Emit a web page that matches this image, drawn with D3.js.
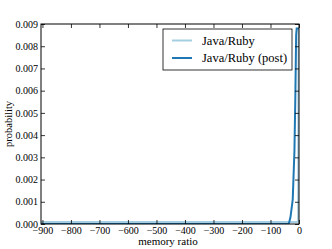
<!DOCTYPE html>
<html>
<head>
<meta charset="utf-8">
<script src="https://cdn.jsdelivr.net/npm/d3@7"></script>
<style>
  body { margin: 0; background: #fff; }
  svg text { font-family: 'Liberation Serif', 'Times New Roman', Tinos, 'DejaVu Serif', serif !important; }
</style>
</head>
<body>
<svg id="chart"></svg>
<script>
// memory ratio -> probability
var javaRuby = [
  [-905, 0.00009], [-600, 0.00009], [-300, 0.00009], [-100, 0.00009],
  [-10, 0.00009], [-3, 0.0001], [-1.5, 0.0087], [0, 0.0088]
];
var javaRubyPost = [
  [-905, 0], [-300, 0], [-100, 0], [-36, 0], [-30, 0.0003],
  [-22, 0.0011], [-16, 0.0033], [-13, 0.0056], [-10, 0.0085],
  [-8, 0.0088], [0, 0.0088]
];
var seriesNames = ['Java/Ruby', 'Java/Ruby (post)'];
var seriesColors = ['#a6cee3', '#1f78b4'];
var xTicks = [-900, -800, -700, -600, -500, -400, -300, -200, -100, 0];
var yTicks = [0, 0.001, 0.002, 0.003, 0.004, 0.005, 0.006, 0.007, 0.008, 0.009];

var width = 332, height = 249;
var margin = {top: 24, right: 33, bottom: 25, left: 41};

var svg = d3.select('#chart')
  .attr('width', width)
  .attr('height', height);

var xScale = d3.scaleLinear()
  .domain([-905, 0])
  .range([margin.left, width - margin.right]);

var yScale = d3.scaleLinear()
  .domain([0, 0.009])
  .range([height - margin.bottom, margin.top]);

var fmtX = function(d){ return d < 0 ? '\u2212' + Math.abs(d) : d; };

// clip the lines to the plot box
svg.append('clipPath').attr('id', 'clip')
  .append('rect')
  .attr('x', margin.left).attr('y', margin.top)
  .attr('width', xScale.range()[1] - margin.left)
  .attr('height', yScale.range()[0] - margin.top);

var line = d3.line()
  .x(function(d){ return xScale(d[0]); })
  .y(function(d){ return yScale(d[1]); });

var plot = svg.append('g').attr('clip-path', 'url(#clip)');
[javaRuby, javaRubyPost].forEach(function(s, i){
  plot.append('path')
    .datum(s)
    .attr('fill', 'none')
    .attr('stroke', seriesColors[i])
    .attr('stroke-width', 2)
    .attr('d', line);
});

// axes, matplotlib classic: ticks inside on all four sides
svg.append('g')
  .attr('transform', 'translate(0,' + yScale.range()[0] + ')')
  .call(d3.axisBottom(xScale).tickValues(xTicks).tickSize(-4).tickPadding(3).tickFormat(fmtX));
svg.append('g')
  .attr('transform', 'translate(0,' + margin.top + ')')
  .call(d3.axisTop(xScale).tickValues(xTicks).tickSize(-4).tickFormat(''));
svg.append('g')
  .attr('transform', 'translate(' + margin.left + ',0)')
  .call(d3.axisLeft(yScale).tickValues(yTicks).tickSize(-4).tickPadding(3).tickFormat(d3.format('.3f')));
svg.append('g')
  .attr('transform', 'translate(' + xScale.range()[1] + ',0)')
  .call(d3.axisRight(yScale).tickValues(yTicks).tickSize(-4).tickFormat(''));

svg.selectAll('.domain').remove();
svg.selectAll('.tick line').attr('stroke', '#000').attr('stroke-width', 0.8);
svg.selectAll('.tick text').attr('font-size', 10).attr('fill', '#000');

svg.append('rect')
  .attr('x', margin.left).attr('y', margin.top)
  .attr('width', xScale.range()[1] - margin.left)
  .attr('height', yScale.range()[0] - margin.top)
  .attr('fill', 'none').attr('stroke', '#000').attr('stroke-width', 1);

svg.append('text')
  .attr('x', 168)
  .attr('y', 245)
  .attr('text-anchor', 'middle')
  .attr('font-size', 11)
  .text('memory ratio');

svg.append('text')
  .attr('transform', 'translate(12,' + ((margin.top + yScale.range()[0]) / 2) + ') rotate(-90)')
  .attr('text-anchor', 'middle')
  .attr('font-size', 10.5)
  .text('probability');

// legend
var legend = svg.append('g');
legend.append('rect')
  .attr('x', 163).attr('y', 29).attr('width', 129).attr('height', 41)
  .attr('fill', '#fff').attr('stroke', '#000').attr('stroke-width', 0.8);
seriesNames.forEach(function(name, i){
  var y = 40.5 + i * 17.5;
  legend.append('line')
    .attr('x1', 172).attr('x2', 192).attr('y1', y).attr('y2', y)
    .attr('stroke', seriesColors[i]).attr('stroke-width', 2);
  legend.append('text')
    .attr('x', 202).attr('y', y + 4)
    .attr('font-size', 12.5)
    .text(name);
});
</script>
</body>
</html>
